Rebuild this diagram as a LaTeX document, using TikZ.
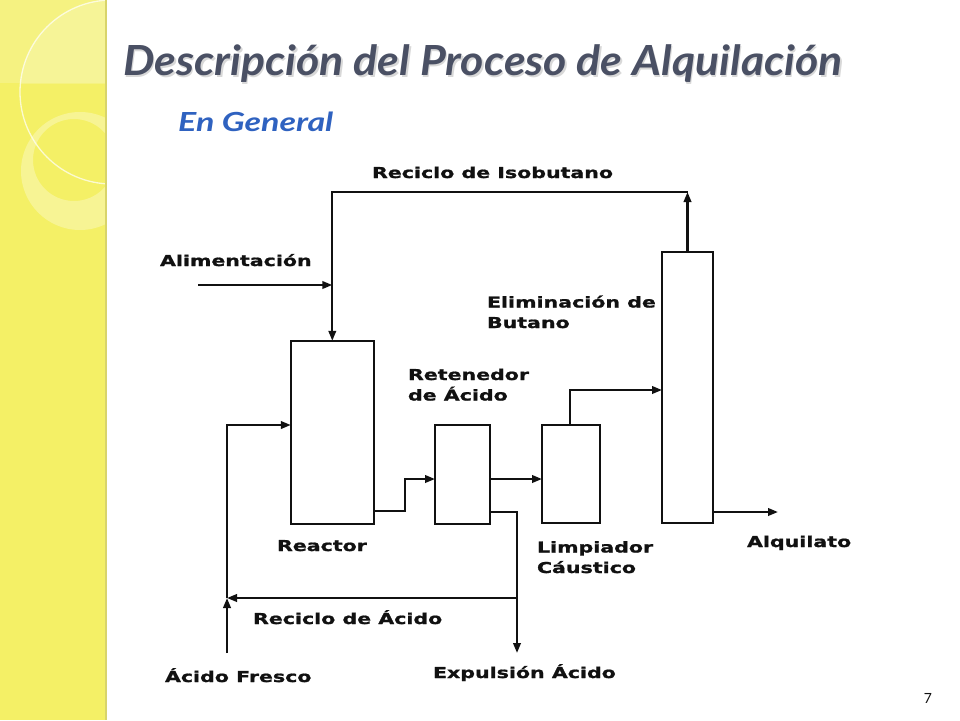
\documentclass[tikz,border=0pt]{standalone}
\usepackage{fontspec}
\usepackage{graphicx}
\usetikzlibrary{arrows.meta}
\setmainfont{DejaVu Sans}
\newfontfamily\titlefont{Lato}
\newfontfamily\labfont{DejaVu Sans}[FakeStretch=1.37, BoldFeatures={FakeBold=1.2}]
\definecolor{stripY}{HTML}{F4F066}
\definecolor{stripEdge}{HTML}{D8D46A}
\definecolor{titleGray}{HTML}{4A5064}
\definecolor{subBlue}{HTML}{2F62C0}
\definecolor{ink}{HTML}{111111}
\tikzset{
  unit/.style={draw=ink, line width=2.4pt, inner sep=0pt, outer sep=0pt},
  flow/.style={draw=ink, line width=2.2pt, -{Triangle[length=10pt,width=7.5pt]}},
  pipe/.style={draw=ink, line width=2.2pt},
  lab/.style={anchor=base west, inner sep=0pt, outer sep=0pt, text=ink, align=left,
    font=\labfont\bfseries\fontsize{15}{20.5}\selectfont},
}
\begin{document}
\begin{tikzpicture}[x=1pt,y=-1pt]
\path[use as bounding box] (0,0) rectangle (960,720);
\fill[white] (0,0) rectangle (960,720);
% left decorative strip
\fill[stripY] (0,0) rectangle (106,720);
\begin{scope}
  \clip (0,0) rectangle (106,720);
  \fill[white, opacity=0.18] (0,0) rectangle (106,83);
  \begin{scope}
    \clip (0,0) rectangle (106,83);
    \fill[white, opacity=0.18] (112,92) circle (92);
  \end{scope}
  \draw[white, opacity=0.7, line width=1.3pt] (112,92) circle (92);
  \fill[white, opacity=0.3, even odd rule] (80,171) circle (59) (74,160) circle (41);
\end{scope}
\draw[stripEdge, line width=1.5pt] (106,0) -- (106,720);
% title
\node[anchor=base west, inner sep=0pt, text=gray, opacity=0.3] (titleshadow) at (124.5,77)
  {\resizebox{719pt}{30pt}{\titlefont\bfseries\itshape\smash{Descripción del Proceso de Alquilación}\vphantom{D}}};
\node[anchor=base west, inner sep=0pt, text=titleGray] (title) at (123,75)
  {\resizebox{719pt}{30pt}{\titlefont\bfseries\itshape\smash{Descripción del Proceso de Alquilación}\vphantom{D}}};
\node[anchor=base west, inner sep=0pt, text=subBlue] (subtitle) at (178,131)
  {\resizebox{155pt}{19pt}{\titlefont\bfseries\itshape\smash{En General}\vphantom{E}}};
% units
\node[unit, minimum width=83pt, minimum height=183pt] (reactor) at (332.3,432.3) {};
\node[unit, minimum width=55pt, minimum height=99pt] (retenedor) at (462.5,474.5) {};
\node[unit, minimum width=58pt, minimum height=98pt] (limpiador) at (571,474) {};
\node[unit, minimum width=51pt, minimum height=271pt] (column) at (687.5,387.5) {};
% coordinates
\coordinate (iso) at (687.5,192);
\coordinate (isoL) at (332.3,192);
\coordinate (feed) at (198,285);
\coordinate (fresh) at (227,653);
\coordinate (aj) at (227,598);
\coordinate (rinL) at (227,425);
\coordinate (r1) at (405,511);
\coordinate (r2) at (405,479);
\coordinate (e1) at (517,512);
\coordinate (e2) at (517,598);
\coordinate (e3) at (517,653);
\coordinate (l1) at (570,390);
\coordinate (alq) at (778,512);
% connectors
\draw[flow] (column.north) -- (iso);
\draw[flow] (iso) -- (isoL) -- (reactor.north);
\draw[flow] (feed) -- (feed -| isoL);
\draw[flow] (fresh) -- (aj);
\draw[flow] (aj) -- (rinL) -- (rinL -| reactor.west);
\draw[flow] (r1 -| reactor.east) -- (r1) -- (r2) -- (r2 -| retenedor.west);
\draw[flow] (r2 -| retenedor.east) -- (r2 -| limpiador.west);
\draw[pipe] (e1 -| retenedor.east) -- (e1) -- (e2);
\draw[flow] (e2) -- (e3);
\draw[flow] (e2) -- (aj);
\draw[flow] (limpiador.north -| l1) -- (l1) -- (l1 -| column.west);
\draw[flow] (alq -| column.east) -- (alq);
% labels
\node[lab] (lIso) at (372,178) {Reciclo de Isobutano};
\node[lab] (lFeed) at (160,266) {Alimentación};
\node[lab] (lElim) at (487,328) {Eliminación de\\Butano};
\node[lab] (lRet) at (408,400.5) {Retenedor\\de Ácido};
\node[lab] (lReac) at (277,551) {Reactor};
\node[lab] (lLimp) at (537,573) {Limpiador\\Cáustico};
\node[lab] (lAlq) at (747,547) {Alquilato};
\node[lab] (lRecA) at (253,624) {Reciclo de Ácido};
\node[lab] (lFresh) at (165,682) {Ácido Fresco};
\node[lab] (lExp) at (433,678) {Expulsión Ácido};
% page number
\node[anchor=base, inner sep=0pt, text=ink] (pnum) at (928,703) {\titlefont\fontsize{14}{14}\selectfont 7};
\end{tikzpicture}
\end{document}
